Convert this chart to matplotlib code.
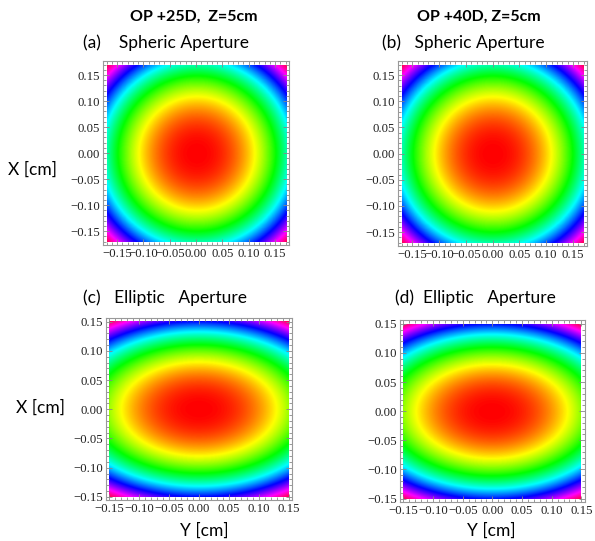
import numpy as np
import matplotlib
matplotlib.use("Agg")
import matplotlib.pyplot as plt
from matplotlib.colors import ListedColormap, hsv_to_rgb
from matplotlib.ticker import MultipleLocator, FuncFormatter

# Panel data
column_titles = ["OP +25D,  Z=5cm", "OP +40D, Z=5cm"]
panel_titles = ["(a)    Spheric Aperture", "(b)   Spheric Aperture",
                "(c)   Elliptic   Aperture", "(d)  Elliptic   Aperture"]
half_range = [0.17, 0.17, 0.15, 0.15]        # aperture half size [cm]
scale_y2 = [1.0, 1.0, 2.6, 2.5]              # relative squared width along Y
scale_x2 = [1.0, 1.0, 1.0, 1.0]              # relative squared width along X
profile_power = [1.1, 1.1, 1.1, 1.1]
hue_max = 0.95

# Axes placement in figure fraction (left, bottom, width, height)
axes_boxes = [
    (0.173, 0.547, 0.313, 0.340),
    (0.669, 0.545, 0.318, 0.342),
    (0.178, 0.075, 0.313, 0.337),
    (0.672, 0.072, 0.311, 0.336),
]

# Hue colour function: red at the maximum, through to magenta-red
hue_cmap = ListedColormap(
    hsv_to_rgb(np.stack([np.linspace(0, hue_max, 256),
                         np.ones(256), np.ones(256)], axis=1)))


def minus_fmt(v, pos):
    if abs(v) < 1e-9:
        return "0.00"
    return f"{v:.2f}".replace("-", "\u2212")


fig = plt.figure(figsize=(5.95, 5.41), dpi=100)
sans = ["Lato", "DejaVu Sans"]
serif = ["Liberation Serif", "DejaVu Serif"]

for i, box in enumerate(axes_boxes):
    ax = fig.add_axes(box)
    h = half_range[i]
    y = np.linspace(-h, h, 400)
    x = np.linspace(-h, h, 400)
    Y, X = np.meshgrid(y, x)
    phase = Y**2 / scale_y2[i] + X**2 / scale_x2[i]
    norm = (phase / phase.max()) ** profile_power[i]
    ax.imshow(norm, cmap=hue_cmap, vmin=0, vmax=1, origin="lower",
              extent=[-h, h, -h, h], interpolation="bilinear", aspect="auto")
    lim = h * 1.04
    ax.set_xlim(-lim, lim)
    ax.set_ylim(-lim, lim)
    ax.xaxis.set_major_locator(MultipleLocator(0.05))
    ax.yaxis.set_major_locator(MultipleLocator(0.05))
    ax.xaxis.set_minor_locator(MultipleLocator(0.01))
    ax.yaxis.set_minor_locator(MultipleLocator(0.01))
    ax.xaxis.set_major_formatter(FuncFormatter(minus_fmt))
    ax.yaxis.set_major_formatter(FuncFormatter(minus_fmt))
    ax.tick_params(which="both", direction="in", top=True, right=True,
                   color="#888888", width=0.6, pad=2)
    ax.tick_params(which="major", length=4)
    ax.tick_params(which="minor", length=2)
    for lab in ax.get_xticklabels() + ax.get_yticklabels():
        lab.set_fontfamily(serif)
        lab.set_fontsize(9.2)
        lab.set_color("#222222")
    for sp in ax.spines.values():
        sp.set_color("#999999")
        sp.set_linewidth(0.8)

# Column titles
fig.text(194 / 595, 1 - 17 / 541, column_titles[0], ha="center", va="center",
         fontsize=11.5, fontweight="bold", family=sans)
fig.text(479 / 595, 1 - 17 / 541, column_titles[1], ha="center", va="center",
         fontsize=11.5, fontweight="bold", family=sans)

# Panel titles
title_pos = [(83, 43), (382, 43), (83, 298), (395, 298)]
for (px, py), t in zip(title_pos, panel_titles):
    fig.text(px / 595, 1 - py / 541, t, ha="left", va="center",
             fontsize=12.5, family=sans)

# Axis labels
fig.text(32 / 595, 1 - 170 / 541, "X [cm]", ha="center", va="center",
         fontsize=12.5, family=sans)
fig.text(40 / 595, 1 - 408 / 541, "X [cm]", ha="center", va="center",
         fontsize=12.5, family=sans)
fig.text(204 / 595, 1 - 531 / 541, "Y [cm]", ha="center", va="center",
         fontsize=12.5, family=sans)
fig.text(491 / 595, 1 - 531 / 541, "Y [cm]", ha="center", va="center",
         fontsize=12.5, family=sans)

fig.savefig("out.png", dpi=100)
